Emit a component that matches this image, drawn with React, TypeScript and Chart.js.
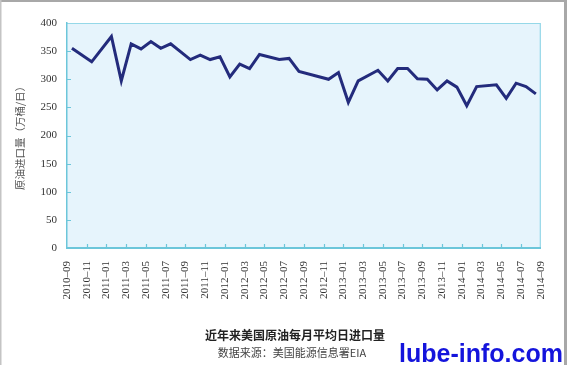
import React, { useEffect, useRef } from "react";
import { Chart, registerables } from "chart.js";

Chart.register(...registerables);

// Months 2010-09 .. 2014-08 (index = months since 2010-09)
const months: string[] = [
  "2010-09","2010-10","2010-11","2010-12","2011-01","2011-02","2011-03","2011-04","2011-05","2011-06","2011-07","2011-08",
  "2011-09","2011-10","2011-11","2011-12","2012-01","2012-02","2012-03","2012-04","2012-05","2012-06","2012-07","2012-08",
  "2012-09","2012-10","2012-11","2012-12","2013-01","2013-02","2013-03","2013-04","2013-05","2013-06","2013-07","2013-08",
  "2013-09","2013-10","2013-11","2013-12","2014-01","2014-02","2014-03","2014-04","2014-05","2014-06","2014-07","2014-08",
];

// 原油进口量（万桶/日）; null = no vertex visible (line spans across)
const imports: (number | null)[] = [
  355, null, 331, null, 376, 297, 363, 354, 367, 355, 363, null,
  335, 343, 335, 340, 304, 327, 319, 344, null, 335, 337, 314,
  null, null, 300, 312, 259, 297, null, 316, 297, 319, 319, 301,
  300, 281, 297, 286, 253, 287, null, 290, 266, 293, 287, 274,
];

const xTickLabels: string[] = [
  "2010–09","2010–11","2011–01","2011–03","2011–05","2011–07","2011–09","2011–11",
  "2012–01","2012–03","2012–05","2012–07","2012–09","2012–11","2013–01","2013–03",
  "2013–05","2013–07","2013–09","2013–11","2014–01","2014–03","2014–05","2014–07","2014–09",
];

const yTicks: number[] = [0, 50, 100, 150, 200, 250, 300, 350, 400];

const TITLE = "近年来美国原油每月平均日进口量";
const SUBTITLE = "数据来源：美国能源信息署EIA";
const WATERMARK = "lube-info.com";
const Y_TITLE = "原油进口量（万桶/日）";

const PLOT_BG = "#e6f4fc";
const AXIS = "#6cc6da";
const FRAME = "#95d8e8";
const LINE = "#232b7c";
const SERIF = "'Liberation Serif', 'Times New Roman', serif";
const CJK = "'Noto Sans CJK SC', sans-serif";

const decor = {
  id: "decor",
  beforeDraw(chart: any) {
    const { ctx, chartArea: a } = chart;
    ctx.save();
    ctx.fillStyle = "#ffffff";
    ctx.fillRect(0, 0, chart.width, chart.height);
    ctx.fillStyle = PLOT_BG;
    ctx.fillRect(a.left, a.top, a.right - a.left, a.bottom - a.top);
    ctx.strokeStyle = FRAME;
    ctx.lineWidth = 1.2;
    ctx.beginPath();
    ctx.moveTo(a.left, a.top + 0.5);
    ctx.lineTo(a.right - 0.5, a.top + 0.5);
    ctx.lineTo(a.right - 0.5, a.bottom);
    ctx.stroke();
    ctx.restore();
  },
  afterDraw(chart: any) {
    const { ctx, chartArea: a } = chart;
    const xs = chart.scales.x;
    const ys = chart.scales.y;
    ctx.save();
    // inward tick marks
    ctx.strokeStyle = AXIS;
    ctx.lineWidth = 1.2;
    ctx.beginPath();
    for (let i = 1; i < xTickLabels.length - 1; i++) {
      const px = Math.round(xs.getPixelForValue(i * 2)) + 0.5;
      ctx.moveTo(px, a.bottom);
      ctx.lineTo(px, a.bottom - 4);
    }
    for (let i = 1; i < yTicks.length - 1; i++) {
      const py = Math.round(ys.getPixelForValue(yTicks[i])) + 0.5;
      ctx.moveTo(a.left, py);
      ctx.lineTo(a.left + 4, py);
    }
    ctx.stroke();

    // titles
    ctx.textAlign = "center";
    ctx.textBaseline = "middle";
    ctx.fillStyle = "#222";
    ctx.font = `bold 12px ${CJK}`;
    ctx.fillText(TITLE, 295, 335);
    ctx.fillStyle = "#444";
    ctx.font = `11px ${CJK}`;
    ctx.fillText(SUBTITLE, 292, 353);

    // watermark
    ctx.textAlign = "left";
    ctx.textBaseline = "alphabetic";
    ctx.fillStyle = "#1414dc";
    ctx.font = `bold 25px 'Liberation Sans', Arial, sans-serif`;
    ctx.fillText(WATERMARK, 399, 362);

    // outer gray frame
    ctx.fillStyle = "#a8a8a8";
    ctx.fillRect(0, 0, chart.width, 2);
    ctx.fillRect(chart.width - 3, 0, 3, chart.height);
    ctx.fillStyle = "#c4c4c4";
    ctx.fillRect(0, 0, 1.5, chart.height);
    ctx.restore();
  },
};

export default function App() {
  const ref = useRef<HTMLCanvasElement | null>(null);

  useEffect(() => {
    if (!ref.current) return;
    const data = imports.map((v, i) => ({ x: i + 0.5, y: v, month: months[i] }));
    const chart = new Chart(ref.current, {
      type: "line",
      data: {
        datasets: [
          {
            label: Y_TITLE,
            data: data as any,
            borderColor: LINE,
            borderWidth: 3,
            pointRadius: 0,
            tension: 0,
            spanGaps: true,
            fill: false,
          },
        ],
      },
      options: {
        animation: false,
        responsive: false,
        devicePixelRatio: 1,
        layout: { padding: { top: 23, right: 25, left: 0, bottom: 0 } },
        plugins: {
          legend: { display: false },
          tooltip: { enabled: false },
          title: { display: false },
        },
        scales: {
          x: {
            type: "linear",
            min: 0,
            max: (xTickLabels.length - 1) * 2,
            afterFit: (s: any) => {
              s.height = 117;
            },
            afterBuildTicks: (s: any) => {
              s.ticks = xTickLabels.map((_, i) => ({ value: i * 2 }));
            },
            ticks: {
              autoSkip: false,
              minRotation: 90,
              maxRotation: 90,
              padding: 13,
              color: "#333",
              font: { family: SERIF, size: 11 },
              callback: (v: any) => xTickLabels[Math.round(Number(v) / 2)] ?? "",
            },
            grid: { display: false, drawTicks: false },
            border: { display: true, color: AXIS, width: 2 },
          },
          y: {
            min: 0,
            max: 400,
            afterFit: (s: any) => {
              s.width = 67;
            },
            afterBuildTicks: (s: any) => {
              s.ticks = yTicks.map((v) => ({ value: v }));
            },
            ticks: {
              padding: 10,
              color: "#333",
              font: { family: SERIF, size: 11 },
            },
            grid: { display: false, drawTicks: false },
            border: { display: true, color: AXIS, width: 1.5 },
            title: {
              display: true,
              text: Y_TITLE,
              color: "#555",
              font: { family: CJK, size: 10.5 },
              padding: { top: 14, bottom: 0 },
            },
          },
        },
      },
      plugins: [decor],
    });
    return () => chart.destroy();
  }, []);

  return (
    <div style={{ position: "fixed", left: 0, top: 0, width: 567, height: 365, background: "#fff" }}>
      <canvas ref={ref} width={567} height={365} style={{ display: "block" }} />
    </div>
  );
}
